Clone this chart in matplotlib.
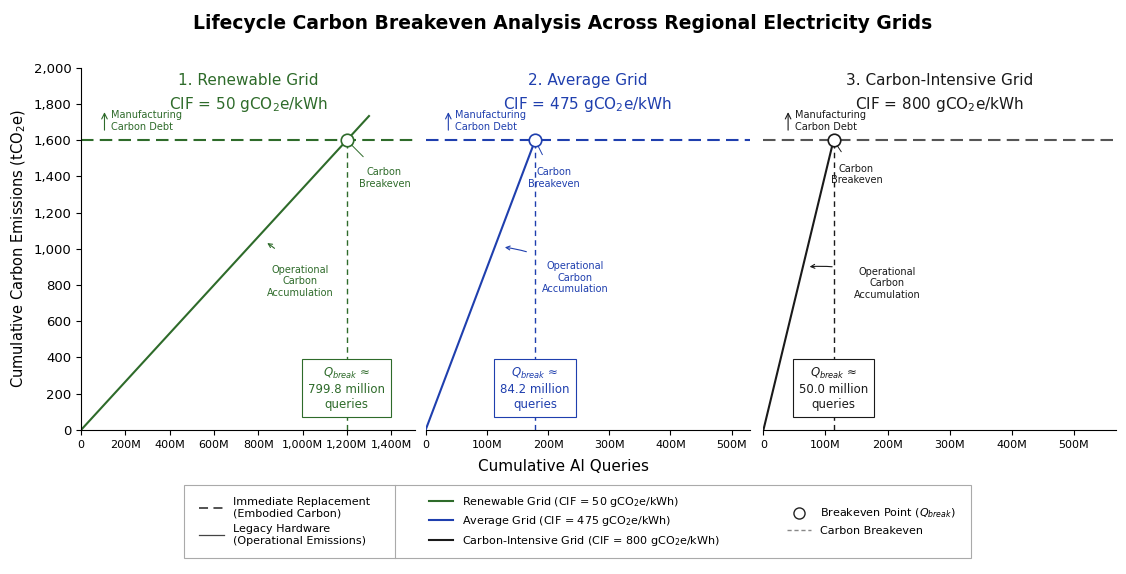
import matplotlib
matplotlib.use("Agg")
import matplotlib.pyplot as plt
from matplotlib.lines import Line2D
from matplotlib.patches import Rectangle
from matplotlib.ticker import FuncFormatter

titles = ["1. Renewable Grid", "2. Average Grid", "3. Carbon-Intensive Grid"]
cifs = [50, 475, 800]
colors = ["#2e6b2a", "#1f3fae", "#1a1a1a"]
embodied = 1600
break_q = [1200, 179, 113]          # million queries (as drawn)
line_end = [1300, 179, 113]
qlabels = ["799.8", "84.2", "50.0"]
xlims = [1510, 530, 568]
xticks = [[0, 200, 400, 600, 800, 1000, 1200, 1400],
          [0, 100, 200, 300, 400, 500],
          [0, 100, 200, 300, 400, 500]]
yticks = [0, 200, 400, 600, 800, 1000, 1200, 1400, 1600, 1800, 2000]

fig = plt.figure(figsize=(11.26, 5.74), dpi=100)
fig.suptitle("Lifecycle Carbon Breakeven Analysis Across Regional Electricity Grids",
             fontsize=13.5, fontweight="bold", y=0.975)
pos = [(0.072, 0.297), (0.378, 0.288), (0.678, 0.313)]
ann = [dict(op=(830, 1040), opt=(990, 820), cb=(1370, 1390)),
       dict(op=(125, 1010), opt=(245, 840), cb=(210, 1390)),
       dict(op=(70, 900), opt=(200, 810), cb=(150, 1410))]
fmt = FuncFormatter(lambda v, p: "0" if v == 0 else f"{int(v):,}M")
for i in range(3):
    ax = fig.add_axes([pos[i][0], 0.251, pos[i][1], 0.631])
    c = colors[i]
    slope = embodied / break_q[i]
    ax.plot([0, line_end[i]], [0, slope * line_end[i]], color=c, lw=1.5)
    ax.axhline(embodied, color=c if i < 2 else "#555555", ls=(0, (6, 3)), lw=1.5)
    ax.plot([break_q[i]] * 2, [0, embodied], color=c, ls=(0, (4, 3)), lw=1)
    ax.plot(break_q[i], embodied, "o", ms=9, mfc="white", mec=c, mew=1.2)
    ax.set_xlim(0, xlims[i]); ax.set_ylim(0, 2000)
    ax.set_xticks(xticks[i]); ax.xaxis.set_major_formatter(fmt)
    ax.tick_params(labelsize=8)
    for s in ["top", "right"]:
        ax.spines[s].set_visible(False)
    if i == 0:
        ax.set_yticks(yticks)
        ax.yaxis.set_major_formatter(FuncFormatter(lambda v, p: f"{int(v):,}"))
        ax.tick_params(axis="y", labelsize=9.5)
        ax.set_ylabel("Cumulative Carbon Emissions (tCO$_2$e)", fontsize=10.5)
    else:
        ax.spines["left"].set_visible(False)
        ax.set_yticks([])
    ax.text(0.5, 0.93, f"{titles[i]}\nCIF = {cifs[i]} gCO$_2$e/kWh", color=c,
            fontsize=11, ha="center", va="center", transform=ax.transAxes, linespacing=1.5)
    xl = xlims[i]
    ax.annotate("", xy=(0.07 * xl, 1770), xytext=(0.07 * xl, 1640),
                arrowprops=dict(arrowstyle="->", color=c, lw=0.8))
    ax.text(0.09 * xl, 1705, "Manufacturing\nCarbon Debt", color=c, fontsize=7, va="center")
    a = ann[i]
    ax.annotate("Carbon\nBreakeven", xy=(break_q[i], embodied), xytext=a["cb"],
                color=c, fontsize=7, ha="center", va="center",
                arrowprops=dict(arrowstyle="-", color=c, lw=0.7, shrinkB=5, shrinkA=8))
    ax.annotate("Operational\nCarbon\nAccumulation", xy=a["op"], xytext=a["opt"],
                color=c, fontsize=7, ha="center", va="center",
                arrowprops=dict(arrowstyle="->", color=c, lw=0.8, shrinkA=14,
                                connectionstyle="arc3,rad=0.15"))
    ax.text(break_q[i], 230, f"$Q_{{break}}$ ≈\n{qlabels[i]} million\nqueries",
            color=c, fontsize=8.5, ha="center", va="center",
            bbox=dict(boxstyle="square,pad=0.5", fc="white", ec=c, lw=0.8))
fig.text(0.5, 0.18, "Cumulative AI Queries", ha="center", fontsize=11)

fig.patches.append(Rectangle((0.163, 0.028), 0.699, 0.127, transform=fig.transFigure,
                             fill=False, ec="#aaaaaa", lw=0.8))
fig.add_artist(Line2D([0.351, 0.351], [0.028, 0.155], transform=fig.transFigure,
                      color="#aaaaaa", lw=0.8))
h1 = [Line2D([], [], color="#444444", ls=(0, (5, 3)), lw=1.3),
      Line2D([], [], color="#444444", lw=0.9)]
l1 = ["Immediate Replacement\n(Embodied Carbon)", "Legacy Hardware\n(Operational Emissions)"]
h2 = [Line2D([], [], color=c, lw=1.5) for c in colors]
l2 = [f"{n} (CIF = {v} gCO$_2$e/kWh)" for n, v in
      zip(["Renewable Grid", "Average Grid", "Carbon-Intensive Grid"], cifs)]
h3 = [Line2D([], [], ls="none", marker="o", mfc="white", mec="#222222", ms=8),
      Line2D([], [], color="#888888", ls=(0, (3, 2)), lw=1)]
l3 = ["Breakeven Point ($Q_{break}$)", "Carbon Breakeven"]
for h, l, x in [(h1, l1, 0.168), (h2, l2, 0.372), (h3, l3, 0.69)]:
    fig.legend(h, l, loc="center left", bbox_to_anchor=(x, 0.092), frameon=False,
               fontsize=8, handlelength=2.2, labelspacing=0.5)
fig.savefig("out.png", dpi=100)
